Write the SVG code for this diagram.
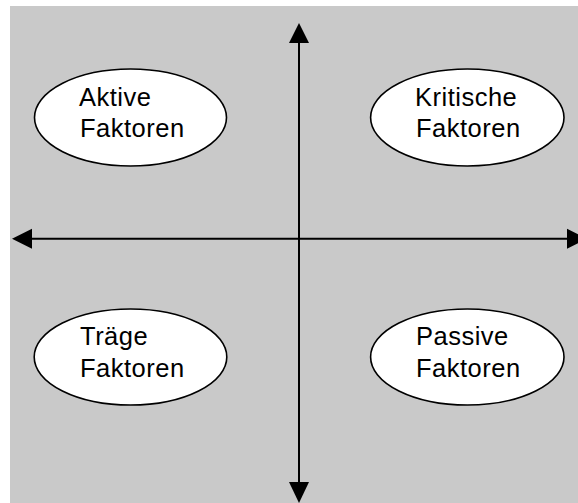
<svg xmlns="http://www.w3.org/2000/svg" width="578" height="503" viewBox="0 0 578 503">
  <style>
    .bg { fill: #c9c9c9; }
    .node ellipse { fill: #ffffff; stroke: #000000; stroke-width: 1.6; }
    .node text { font-family: "Liberation Sans", Arial, sans-serif; font-size: 25.5px; letter-spacing: 0.5px; fill: #000000; }
    .axis line { stroke: #000000; stroke-width: 2; }
    .axis polygon { fill: #000000; }
  </style>

  <!-- background panel -->
  <rect class="bg" x="10" y="6" width="568" height="497"/>

  <!-- axes with arrowheads -->
  <g id="connectors" class="axis">
    <line x1="31" y1="238.7" x2="568" y2="238.7"/>
    <line x1="299" y1="42" x2="299" y2="483"/>
    <polygon points="12,238.7 32,228.7 32,248.7"/>
    <polygon points="587,238.7 567,228.7 567,248.7"/>
    <polygon points="299,23 289,43 309,43"/>
    <polygon points="299,503 289,482 309,482"/>
  </g>

  <g id="aktive" class="node">
    <ellipse cx="130.5" cy="117.5" rx="96" ry="48.5"/>
    <text x="79" y="105.7">Aktive</text>
    <text x="80" y="136.7">Faktoren</text>
  </g>

  <g id="kritische" class="node">
    <ellipse cx="467.3" cy="117.5" rx="96.7" ry="48.5"/>
    <text x="415" y="105.7">Kritische</text>
    <text x="416" y="136.7">Faktoren</text>
  </g>

  <g id="traege" class="node">
    <ellipse cx="130.5" cy="357" rx="96.3" ry="48"/>
    <text x="80" y="345">Träge</text>
    <text x="80" y="377.3">Faktoren</text>
  </g>

  <g id="passive" class="node">
    <ellipse cx="467.3" cy="357" rx="96.7" ry="48"/>
    <text x="416" y="345">Passive</text>
    <text x="416" y="377.3">Faktoren</text>
  </g>
</svg>
